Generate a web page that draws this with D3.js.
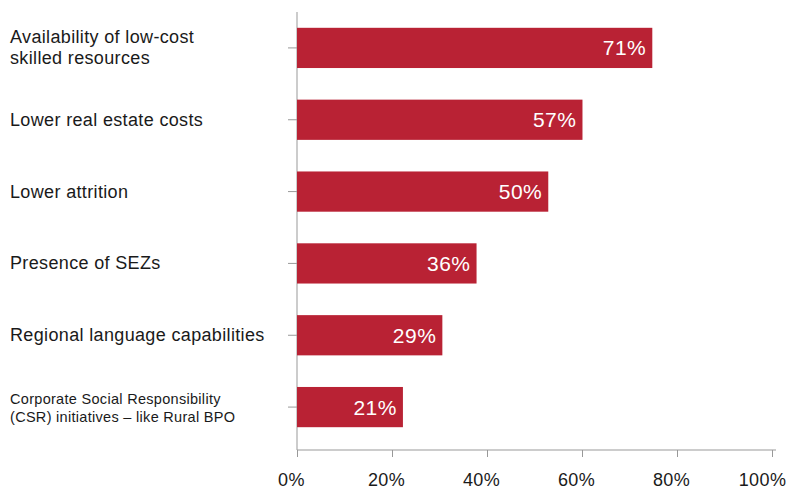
<!DOCTYPE html>
<html>
<head>
<meta charset="utf-8">
<title>Location drivers</title>
<script src="https://cdn.jsdelivr.net/npm/d3@7"></script>
<style>
  body { margin: 0; background: #fff; }
  text { font-family: "Helvetica Neue", Helvetica, "Liberation Sans", Arial, sans-serif; }
</style>
</head>
<body>
<script>
// categories (each entry = lines of the label)
var categories = [
  ["Availability of low-cost", "skilled resources"],
  ["Lower real estate costs"],
  ["Lower attrition"],
  ["Presence of SEZs"],
  ["Regional language capabilities"],
  ["Corporate Social Responsibility", "(CSR) initiatives \u2013 like Rural BPO"]
];
// printed labels
var valueLabels = ["71%", "57%", "50%", "36%", "29%", "21%"];
// bar lengths as drawn in the picture
var barValues = [0.748, 0.601, 0.529, 0.378, 0.306, 0.223];
var xTicks = [0, 0.2, 0.4, 0.6, 0.8, 1];

var width = 789, height = 490;
var barColor = "#b92234";

var svg = d3.select("body").append("svg")
  .attr("width", width)
  .attr("height", height);

var x = d3.scaleLinear().domain([0, 1]).range([297, 772]);
var y = d3.scaleBand()
  .domain(d3.range(categories.length))
  .range([12, 443])
  .paddingInner(0.44)
  .paddingOuter(0.22);

// x axis
var xAxis = svg.append("g")
  .attr("transform", "translate(0,450)")
  .call(d3.axisBottom(x).tickValues(xTicks).tickSize(7)
    .tickFormat(d3.format(".0%")));
xAxis.select(".domain").attr("stroke", "#999").attr("d", "M297,0H776");
xAxis.selectAll(".tick line").attr("stroke", "#999");
xAxis.selectAll(".tick text")
  .attr("fill", "#1a1a1a")
  .style("font-size", "18px")
  .style("letter-spacing", "0.4px")
  .attr("dy", "1.45em")
  .attr("dx", function(d) { return d === 1 ? -10 : -6; });

// y axis
var yAxis = svg.append("g")
  .attr("transform", "translate(297,0)")
  .call(d3.axisLeft(y).tickSize(9).tickFormat(""));
yAxis.select(".domain").attr("stroke", "#999").attr("d", "M0,12V450");
yAxis.selectAll(".tick line").attr("stroke", "#999");

// bars
svg.append("g").selectAll("rect")
  .data(barValues)
  .join("rect")
  .attr("x", x(0))
  .attr("y", function(d, i) { return y(i); })
  .attr("width", function(d) { return x(d) - x(0); })
  .attr("height", y.bandwidth())
  .attr("fill", barColor);

// value labels
svg.append("g").selectAll("text")
  .data(barValues)
  .join("text")
  .attr("x", function(d) { return x(d) - 6; })
  .attr("y", function(d, i) { return y(i) + y.bandwidth() / 2 + 7.5; })
  .attr("text-anchor", "end")
  .attr("fill", "#fff")
  .style("font-size", "21px")
  .style("letter-spacing", "0.5px")
  .text(function(d, i) { return valueLabels[i]; });

// category labels
var cat = svg.append("g").selectAll("text")
  .data(categories)
  .join("text")
  .attr("fill", "#1a1a1a")
  .style("font-size", function(d, i) { return i === 5 ? "14.5px" : "18px"; })
  .style("letter-spacing", function(d, i) { return i === 5 ? "0.3px" : "0.35px"; })
  .attr("transform", function(d, i) {
    var c = y(i) + y.bandwidth() / 2;
    var lh = i === 5 ? 18 : 21;
    var base = c + 6 - (d.length - 1) * lh / 2;
    return "translate(10," + base + ")";
  });
cat.selectAll("tspan")
  .data(function(d, i) { return d.map(function(t) { return { t: t, lh: i === 5 ? 18 : 21 }; }); })
  .join("tspan")
  .attr("x", 0)
  .attr("y", function(d, j) { return j * d.lh; })
  .text(function(d) { return d.t; });
</script>
</body>
</html>
